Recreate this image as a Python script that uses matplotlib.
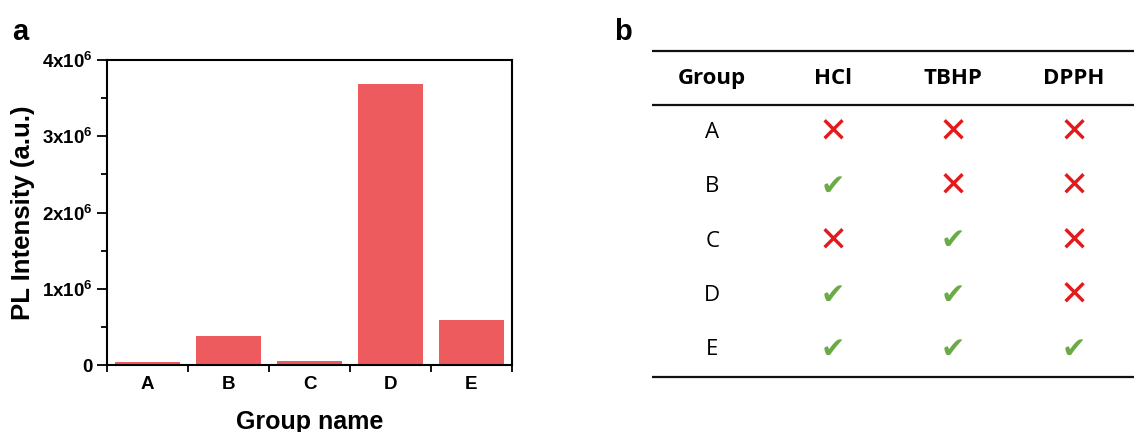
import matplotlib
matplotlib.use("Agg")
import matplotlib.pyplot as plt
from matplotlib.ticker import FixedLocator, FuncFormatter, MultipleLocator

plt.rcParams['font.family'] = ['Liberation Sans', 'DejaVu Sans']
plt.rcParams['mathtext.fontset'] = 'custom'
plt.rcParams['mathtext.rm'] = 'Liberation Sans'
plt.rcParams['mathtext.it'] = 'Liberation Sans'

# ---- data ----
groups = ['A', 'B', 'C', 'D', 'E']
intensity = [0.04e6, 0.38e6, 0.055e6, 3.685e6, 0.59e6]

table_cols = ['Group', 'HCl', 'TBHP', 'DPPH']
hcl = [0, 1, 0, 1, 1]
tbhp = [0, 0, 1, 1, 1]
dpph = [0, 0, 0, 0, 1]

bar_color = '#EE5B5F'
cross_color = '#E31A1C'
check_color = '#6AAB45'

fig = plt.figure(figsize=(11.34, 4.32), dpi=100)

# ---- panel a ----
ax = fig.add_axes([107/1134, 1-365/432, (512-107)/1134, (365-60)/432])
x = list(range(len(groups)))
ax.bar(x, intensity, width=0.8, color=bar_color)
ax.set_xlim(-0.5, 4.5)
ax.set_ylim(0, 4e6)
ax.set_xticks(x)
ax.set_xticklabels(groups, fontsize=13.5, fontweight='bold')
ax.xaxis.set_minor_locator(FixedLocator([i - 0.5 for i in range(len(groups) + 1)]))
ax.tick_params(axis='x', which='major', length=0, pad=8)
ax.tick_params(axis='x', which='minor', length=5, width=1.3, direction='out')
ax.set_yticks([0, 1e6, 2e6, 3e6, 4e6])
ax.yaxis.set_minor_locator(MultipleLocator(0.5e6))
def fmt(v, pos):
    n = int(round(v / 1e6))
    if n == 0:
        return '0'
    return r'%dx10$^{\mathregular{6}}$' % n
ax.yaxis.set_major_formatter(FuncFormatter(fmt))
ax.tick_params(axis='y', which='major', length=7, width=1.3, direction='out', labelsize=13.5)
ax.tick_params(axis='y', which='minor', length=4, width=1.3, direction='out')
for lab in ax.get_yticklabels():
    lab.set_fontweight('bold')
for s in ax.spines.values():
    s.set_linewidth(1.5)
ax.set_ylabel('PL Intensity (a.u.)', fontsize=18.5, fontweight='bold', labelpad=5)
ax.set_xlabel('Group name', fontsize=18, fontweight='bold', labelpad=12)
fig.text(12/1134, 1-32/432, 'a', fontsize=21, fontweight='bold', va='center', ha='left')

# ---- panel b (table) ----
tb = fig.add_axes([652/1134, 1-377/432, (1134-652)/1134, (377-51)/432])
tb.set_xlim(0, 4)
tb.set_ylim(6, 0)
tb.axis('off')
for yy in [0, 1, 6]:
    tb.plot([0, 4], [yy, yy], color='#111111', lw=1.6, clip_on=False, solid_capstyle='butt')
tfont = ['Open Sans', 'DejaVu Sans']
for j, c in enumerate(table_cols):
    tb.text(j + 0.5, 0.5, c, ha='center', va='center', fontsize=16,
            fontweight='bold', family=tfont)
cols = [hcl, tbhp, dpph]
for i, g in enumerate(groups):
    tb.text(0.5, i + 1.5, g, ha='center', va='center', fontsize=16, family=tfont)
    for j, colv in enumerate(cols):
        if colv[i]:
            tb.text(j + 1.5, i + 1.5, '\u2714', ha='center', va='center',
                    fontsize=21, color=check_color, family=['DejaVu Sans'])
        else:
            tb.text(j + 1.5, i + 1.5, '\u2715', ha='center', va='center',
                    fontsize=25, fontweight='bold', color=cross_color, family=['DejaVu Sans'])
fig.text(614/1134, 1-32/432, 'b', fontsize=21, fontweight='bold', va='center', ha='left')

fig.savefig('out.png', dpi=100)
